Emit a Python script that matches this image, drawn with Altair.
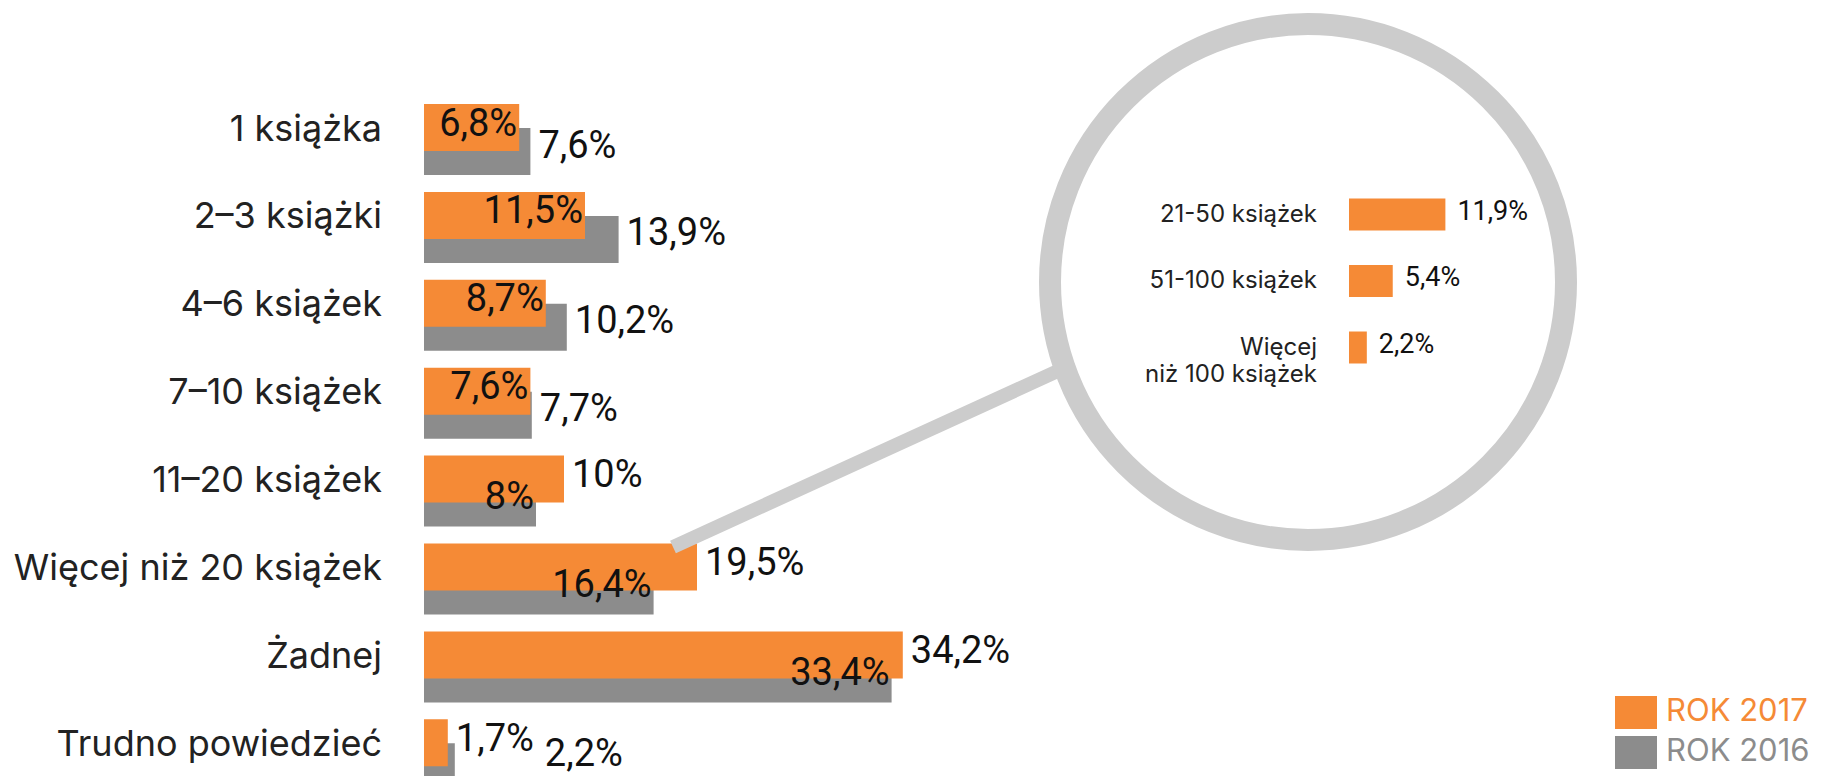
import altair as alt
import pandas as pd

# ---------------- data ----------------
categories = [
    "1 książka",
    "2–3 książki",
    "4–6 książek",
    "7–10 książek",
    "11–20 książek",
    "Więcej niż 20 książek",
    "Żadnej",
    "Trudno powiedzieć",
]
values_2017 = [6.8, 11.5, 8.7, 7.6, 10, 19.5, 34.2, 1.7]
values_2016 = [7.6, 13.9, 10.2, 7.7, 8, 16.4, 33.4, 2.2]

inset_categories = ["21-50 książek", "51-100 książek", "Więcej\nniż 100 książek"]
inset_values_2017 = [11.9, 5.4, 2.2]

legend_labels = ["ROK 2017", "ROK 2016"]

# label placement groups (which value labels sit inside the end of their bar,
# and which 2016 label is pushed past the neighbouring 2017 label)
inside_2017 = ["1 książka", "2–3 książki", "4–6 książek", "7–10 książek"]
inside_2016 = ["11–20 książek", "Więcej niż 20 książek", "Żadnej"]
pushed_2016 = ["Trudno powiedzieć"]

# ---------------- style ----------------
ORANGE = "#F58A36"
GRAY = "#8C8C8C"
RING = "#CCCCCC"
TEXT = "#222222"
LABEL_FONT = "Inter, Open Sans, sans-serif"
NUM_FONT = "Roboto, Liberation Sans Narrow, sans-serif"

df17 = pd.DataFrame({"category": categories, "value": values_2017,
                     "group": ["in" if c in inside_2017 else "out" for c in categories]})
df16 = pd.DataFrame({"category": categories, "value": values_2016,
                     "group": ["in" if c in inside_2016 else ("push" if c in pushed_2016 else "out")
                               for c in categories]})
dfin = pd.DataFrame({"category": inset_categories, "value": inset_values_2017})
dfleg = pd.DataFrame({"label": legend_labels})
deco = pd.DataFrame({"k": [0]})

label_expr = ("(datum.value % 1 == 0 ? format(datum.value, 'd') : "
              "replace(format(datum.value, '.1f'), '.', ',')) + '%'")

# ---------------- main chart ----------------
y_main = alt.Y("category:N", axis=None,
               scale=alt.Scale(domain=categories, range=[87.55, 790.75],
                               paddingInner=0, paddingOuter=0))
x_main = alt.X("value:Q", axis=None,
               scale=alt.Scale(domain=[0, 40], range=[416, 976], nice=False, zero=True))

gray_bars = alt.Chart(df16).mark_bar(color=GRAY, size=47, yOffset=12).encode(x=x_main, y=y_main)
orange_bars = alt.Chart(df17).mark_bar(color=ORANGE, size=47, yOffset=-12).encode(x=x_main, y=y_main)

handle = alt.Chart(deco).mark_rule(color=RING, strokeWidth=14).encode(
    x=alt.value(665), y=alt.value(539), x2=alt.value(1052), y2=alt.value(362))
ring = alt.Chart(deco).mark_point(shape="circle", filled=False, size=516 ** 2,
                                  strokeWidth=22, color=RING, opacity=1).encode(
    x=alt.value(1300), y=alt.value(274))

cat_labels = alt.Chart(df17).mark_text(
    align="right", baseline="middle", yOffset=-10, font=LABEL_FONT,
    fontSize=36, fontWeight=400, color=TEXT).encode(
    x=alt.value(374), y=y_main, text="category:N")


def value_labels(df, group, y_off):
    align = "right" if group == "in" else "left"
    dx = {"in": -2, "out": 8, "push": 90}[group]
    base = alt.Chart(df).transform_filter(
        f"datum.group == '{group}'"
    ).transform_calculate(label=label_expr)
    return base.mark_text(
        align=align, baseline="middle", dx=dx, yOffset=y_off, font=NUM_FONT,
        fontSize=38, fontWeight=400, color="#111111").encode(
        x=x_main, y=y_main, text="label:N")


main = alt.layer(
    gray_bars, orange_bars, handle, ring, cat_labels,
    value_labels(df17, "in", -15), value_labels(df17, "out", -15),
    value_labels(df16, "in", 7), value_labels(df16, "out", 7),
    value_labels(df16, "push", 0),
)

# ---------------- inset ----------------
y_in = alt.Y("category:N", axis=None,
             scale=alt.Scale(domain=inset_categories, range=[173.25, 372.75],
                             paddingInner=0, paddingOuter=0))
x_in = alt.X("value:Q", axis=None,
             scale=alt.Scale(domain=[0, 20], range=[1341, 1503], nice=False, zero=True))

in_bars = alt.Chart(dfin).mark_bar(color=ORANGE, size=32).encode(x=x_in, y=y_in)
in_labels = alt.Chart(dfin).mark_text(
    align="right", baseline="middle", lineBreak="\n", lineHeight=27,
    font=LABEL_FONT, fontSize=24, fontWeight=400, color=TEXT).encode(
    x=alt.value(1309), y=y_in, text="category:N")
in_values = alt.Chart(dfin).transform_calculate(label=label_expr).mark_text(
    align="left", baseline="middle", dx=12, yOffset=-3, font=NUM_FONT,
    fontSize=27, fontWeight=400, color="#111111").encode(x=x_in, y=y_in, text="label:N")

inset = alt.layer(in_bars, in_labels, in_values)

# ---------------- legend ----------------
y_leg = alt.Y("label:N", axis=None,
              scale=alt.Scale(domain=legend_labels, range=[684.4, 764.4],
                              paddingInner=0, paddingOuter=0))
color_leg = alt.Color("label:N", legend=None,
                      scale=alt.Scale(domain=legend_labels, range=[ORANGE, GRAY]))
leg_sq = alt.Chart(dfleg).mark_bar(size=33).encode(
    x=alt.value(1607), x2=alt.value(1649), y=y_leg, color=color_leg)
leg_txt = alt.Chart(dfleg).mark_text(
    align="left", baseline="middle", font=LABEL_FONT, fontSize=31, fontWeight=400).encode(
    x=alt.value(1658), y=y_leg, text="label:N", color=color_leg)
legend = alt.layer(leg_sq, leg_txt)

chart = alt.layer(main, inset, legend).resolve_scale(
    x="independent", y="independent", color="independent"
).properties(
    width=1811, height=768, padding=0, autosize="none"
).configure_view(stroke=None)

chart.save("out.html", embed_options={"renderer": "svg", "actions": False})
